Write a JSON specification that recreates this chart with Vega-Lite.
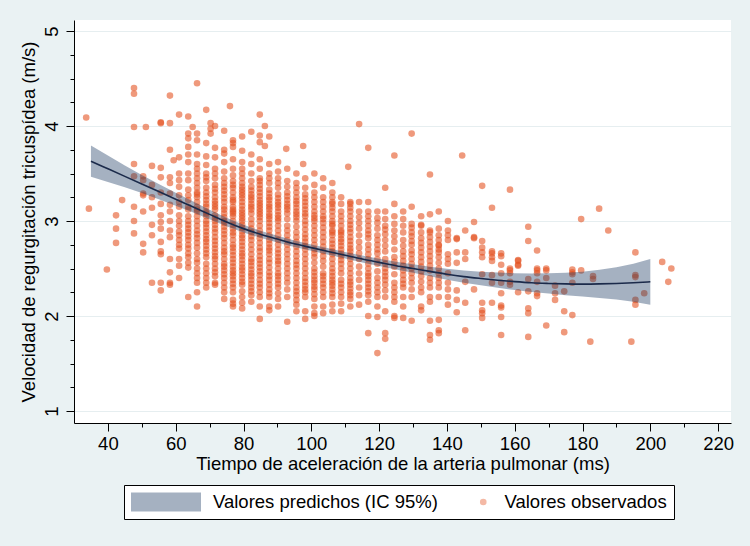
{
"$schema": "https://vega.github.io/schema/vega-lite/v6.json",
"width": 657, "height": 403,
"autosize": {"type": "none"},
"padding": {"left": 74, "top": 20, "right": 19, "bottom": 123},
"background": "#eaf2f3",
"config": {"view": {"fill": "white", "stroke": null}, "font": "Liberation Sans"},
"datasets": {
"fit": [
{"x":35,"fit":3.63,"lo":3.465,"hi":3.795},{"x":40,"fit":3.55,"lo":3.41,"hi":3.69},{"x":45,"fit":3.47,"lo":3.355,"hi":3.585},{"x":50,"fit":3.39,"lo":3.295,"hi":3.485},{"x":55,"fit":3.31,"lo":3.23,"hi":3.39},{"x":60,"fit":3.23,"lo":3.162,"hi":3.298},{"x":65,"fit":3.15,"lo":3.092,"hi":3.208},{"x":70,"fit":3.07,"lo":3.02,"hi":3.12},{"x":75,"fit":2.99,"lo":2.946,"hi":3.034},{"x":80,"fit":2.92,"lo":2.88,"hi":2.96},{"x":85,"fit":2.86,"lo":2.823,"hi":2.897},{"x":90,"fit":2.81,"lo":2.775,"hi":2.845},{"x":95,"fit":2.76,"lo":2.726,"hi":2.794},{"x":100,"fit":2.72,"lo":2.686,"hi":2.754},{"x":105,"fit":2.68,"lo":2.646,"hi":2.714},{"x":110,"fit":2.64,"lo":2.605,"hi":2.675},{"x":115,"fit":2.6,"lo":2.564,"hi":2.636},{"x":120,"fit":2.565,"lo":2.527,"hi":2.603},{"x":125,"fit":2.53,"lo":2.489,"hi":2.571},{"x":130,"fit":2.5,"lo":2.455,"hi":2.545},{"x":135,"fit":2.47,"lo":2.42,"hi":2.52},{"x":140,"fit":2.44,"lo":2.383,"hi":2.497},{"x":145,"fit":2.415,"lo":2.351,"hi":2.479},{"x":150,"fit":2.395,"lo":2.323,"hi":2.467},{"x":155,"fit":2.377,"lo":2.297,"hi":2.457},{"x":160,"fit":2.362,"lo":2.274,"hi":2.45},{"x":165,"fit":2.35,"lo":2.253,"hi":2.447},{"x":170,"fit":2.343,"lo":2.236,"hi":2.45},{"x":175,"fit":2.338,"lo":2.22,"hi":2.456},{"x":180,"fit":2.336,"lo":2.206,"hi":2.466},{"x":185,"fit":2.338,"lo":2.19,"hi":2.486},{"x":190,"fit":2.343,"lo":2.173,"hi":2.513},{"x":195,"fit":2.35,"lo":2.15,"hi":2.55},{"x":200,"fit":2.36,"lo":2.12,"hi":2.6}
],
"obs": [
{"x":33.6,"y":4.09},{"x":34.4,"y":3.13},{"x":39.7,"y":2.49},{"x":42.4,"y":3.06},{"x":42.4,"y":2.92},{"x":42.4,"y":2.77},{"x":44.2,"y":3.22},
{"x":47.7,"y":4.4},{"x":47.7,"y":4.34},{"x":47.7,"y":3.99},{"x":47.7,"y":3.6},{"x":47.7,"y":3.47},{"x":47.7,"y":3.15},{"x":47.7,"y":3.0},{"x":47.7,"y":2.87},
{"x":50.4,"y":3.47},{"x":50.4,"y":3.43},{"x":50.4,"y":3.29},{"x":50.4,"y":3.27},{"x":50.4,"y":3.1},{"x":50.4,"y":2.76},{"x":50.4,"y":2.67},{"x":51.2,"y":3.99},
{"x":53.0,"y":3.58},{"x":53.0,"y":3.38},{"x":53.0,"y":3.25},{"x":53.0,"y":3.14},{"x":53.0,"y":2.96},{"x":53.0,"y":2.85},{"x":53.0,"y":2.35},
{"x":55.6,"y":4.04},{"x":55.6,"y":4.03},{"x":55.6,"y":3.56},{"x":55.6,"y":3.46},{"x":55.6,"y":3.3},{"x":55.6,"y":3.18},{"x":55.6,"y":3.06},{"x":55.6,"y":2.99},{"x":55.6,"y":2.92},{"x":55.6,"y":2.78},{"x":55.6,"y":2.68},{"x":55.6,"y":2.65},{"x":55.6,"y":2.35},{"x":55.6,"y":2.27},
{"x":58.3,"y":4.32},{"x":58.3,"y":4.03},{"x":58.3,"y":3.75},{"x":58.3,"y":3.46},{"x":58.3,"y":3.4},{"x":58.3,"y":3.29},{"x":58.3,"y":3.17},{"x":58.3,"y":3.1},{"x":58.3,"y":3.0},{"x":58.3,"y":2.9},{"x":58.3,"y":2.83},{"x":58.3,"y":2.6},{"x":58.3,"y":2.46},{"x":58.3,"y":2.35},{"x":58.3,"y":2.33},{"x":59.4,"y":3.64},
{"x":61.0,"y":4.12},{"x":61.0,"y":3.67},{"x":61.0,"y":3.5},{"x":61.0,"y":3.43},{"x":61.0,"y":3.36},{"x":61.0,"y":3.27},{"x":61.0,"y":3.15},{"x":61.0,"y":3.06},{"x":61.0,"y":2.95},{"x":61.0,"y":2.89},{"x":61.0,"y":2.8},{"x":61.0,"y":2.71},{"x":61.0,"y":2.53},{"x":61.0,"y":2.4},
{"x":61.0,"y":3.2},{"x":61.0,"y":3.0},{"x":61.0,"y":2.85},{"x":61.0,"y":2.75},{"x":61.0,"y":2.6},
{"x":63.7,"y":4.1},{"x":63.7,"y":3.92},{"x":63.7,"y":3.87},{"x":63.7,"y":3.78},{"x":63.7,"y":3.7},{"x":63.7,"y":3.62},{"x":63.7,"y":3.5},{"x":63.7,"y":3.43},{"x":63.7,"y":3.33},{"x":63.7,"y":3.27},{"x":63.7,"y":3.22},{"x":63.7,"y":3.12},{"x":63.7,"y":3.05},{"x":63.7,"y":2.96},{"x":63.7,"y":2.88},{"x":63.7,"y":2.8},{"x":63.7,"y":2.75},{"x":63.7,"y":2.71},{"x":63.7,"y":2.62},{"x":63.7,"y":2.51},{"x":63.7,"y":2.2},{"x":65.0,"y":3.99},
{"x":63.7,"y":3.15},{"x":63.7,"y":3.0},{"x":63.7,"y":2.92},{"x":63.7,"y":2.84},{"x":63.7,"y":2.66},{"x":63.7,"y":2.56},
{"x":66.3,"y":4.45},{"x":66.3,"y":3.92},{"x":66.3,"y":3.85},{"x":66.3,"y":3.7},{"x":66.3,"y":3.6},{"x":66.3,"y":3.55},{"x":66.3,"y":3.5},{"x":66.3,"y":3.4},{"x":66.3,"y":3.35},{"x":66.3,"y":3.3},{"x":66.3,"y":3.25},{"x":66.3,"y":3.2},{"x":66.3,"y":3.15},{"x":66.3,"y":3.1},{"x":66.3,"y":3.05},{"x":66.3,"y":3.0},{"x":66.3,"y":2.9},{"x":66.3,"y":2.82},{"x":66.3,"y":2.72},{"x":66.3,"y":2.6},{"x":66.3,"y":2.56},{"x":66.3,"y":2.5},{"x":66.3,"y":2.45},{"x":66.3,"y":2.35},{"x":66.3,"y":2.25},{"x":66.3,"y":2.1},
{"x":66.3,"y":3.45},{"x":66.3,"y":3.28},{"x":66.3,"y":3.12},{"x":66.3,"y":2.95},{"x":66.3,"y":2.86},{"x":66.3,"y":2.77},{"x":66.3,"y":2.66},{"x":66.3,"y":2.4},
{"x":69.0,"y":4.17},{"x":69.0,"y":3.82},{"x":69.0,"y":3.68},{"x":69.0,"y":3.59},{"x":69.0,"y":3.5},{"x":69.0,"y":3.42},{"x":69.0,"y":3.35},{"x":69.0,"y":3.3},{"x":69.0,"y":3.22},{"x":69.0,"y":3.15},{"x":69.0,"y":3.1},{"x":69.0,"y":3.05},{"x":69.0,"y":3.0},{"x":69.0,"y":2.93},{"x":69.0,"y":2.85},{"x":69.0,"y":2.78},{"x":69.0,"y":2.7},{"x":69.0,"y":2.62},{"x":69.0,"y":2.5},{"x":69.0,"y":2.45},{"x":69.0,"y":2.4},{"x":69.0,"y":2.3},
{"x":69.0,"y":3.46},{"x":69.0,"y":3.26},{"x":69.0,"y":3.18},{"x":69.0,"y":3.08},{"x":69.0,"y":2.97},{"x":69.0,"y":2.89},{"x":69.0,"y":2.81},{"x":69.0,"y":2.74},{"x":69.0,"y":2.66},{"x":69.0,"y":2.55},{"x":69.0,"y":2.35},
{"x":70.3,"y":4.03},{"x":70.3,"y":3.97},{"x":70.3,"y":3.92},
{"x":71.6,"y":4.0},{"x":71.6,"y":3.77},{"x":71.6,"y":3.67},{"x":71.6,"y":3.55},{"x":71.6,"y":3.45},{"x":71.6,"y":3.38},{"x":71.6,"y":3.3},{"x":71.6,"y":3.25},{"x":71.6,"y":3.18},{"x":71.6,"y":3.12},{"x":71.6,"y":3.06},{"x":71.6,"y":3.0},{"x":71.6,"y":2.92},{"x":71.6,"y":2.83},{"x":71.6,"y":2.75},{"x":71.6,"y":2.67},{"x":71.6,"y":2.6},{"x":71.6,"y":2.5},{"x":71.6,"y":2.42},{"x":71.6,"y":2.35},{"x":71.6,"y":2.33},
{"x":71.6,"y":3.5},{"x":71.6,"y":3.34},{"x":71.6,"y":3.21},{"x":71.6,"y":3.15},{"x":71.6,"y":3.03},{"x":71.6,"y":2.96},{"x":71.6,"y":2.88},{"x":71.6,"y":2.79},{"x":71.6,"y":2.71},{"x":71.6,"y":2.63},{"x":71.6,"y":2.55},{"x":71.6,"y":2.46},
{"x":74.3,"y":3.95},{"x":74.3,"y":3.75},{"x":74.3,"y":3.71},{"x":74.3,"y":3.62},{"x":74.3,"y":3.52},{"x":74.3,"y":3.45},{"x":74.3,"y":3.4},{"x":74.3,"y":3.32},{"x":74.3,"y":3.28},{"x":74.3,"y":3.2},{"x":74.3,"y":3.15},{"x":74.3,"y":3.08},{"x":74.3,"y":3.04},{"x":74.3,"y":2.98},{"x":74.3,"y":2.9},{"x":74.3,"y":2.82},{"x":74.3,"y":2.72},{"x":74.3,"y":2.65},{"x":74.3,"y":2.55},{"x":74.3,"y":2.48},{"x":74.3,"y":2.4},{"x":74.3,"y":2.35},{"x":74.3,"y":2.25},{"x":74.3,"y":2.18},{"x":76.0,"y":4.21},
{"x":74.3,"y":3.36},{"x":74.3,"y":3.24},{"x":74.3,"y":3.12},{"x":74.3,"y":3.0},{"x":74.3,"y":2.94},{"x":74.3,"y":2.86},{"x":74.3,"y":2.77},{"x":74.3,"y":2.68},{"x":74.3,"y":2.6},{"x":74.3,"y":2.52},{"x":74.3,"y":2.44},{"x":74.3,"y":2.3},
{"x":76.9,"y":3.85},{"x":76.9,"y":3.82},{"x":76.9,"y":3.78},{"x":76.9,"y":3.65},{"x":76.9,"y":3.55},{"x":76.9,"y":3.48},{"x":76.9,"y":3.42},{"x":76.9,"y":3.35},{"x":76.9,"y":3.3},{"x":76.9,"y":3.25},{"x":76.9,"y":3.2},{"x":76.9,"y":3.15},{"x":76.9,"y":3.1},{"x":76.9,"y":3.05},{"x":76.9,"y":3.0},{"x":76.9,"y":2.92},{"x":76.9,"y":2.85},{"x":76.9,"y":2.75},{"x":76.9,"y":2.68},{"x":76.9,"y":2.6},{"x":76.9,"y":2.52},{"x":76.9,"y":2.45},{"x":76.9,"y":2.38},{"x":76.9,"y":2.3},{"x":76.9,"y":2.17},{"x":76.9,"y":2.13},{"x":76.9,"y":2.1},
{"x":76.9,"y":3.38},{"x":76.9,"y":3.22},{"x":76.9,"y":3.12},{"x":76.9,"y":3.08},{"x":76.9,"y":2.96},{"x":76.9,"y":2.88},{"x":76.9,"y":2.8},{"x":76.9,"y":2.72},{"x":76.9,"y":2.64},{"x":76.9,"y":2.56},{"x":76.9,"y":2.48},{"x":76.9,"y":2.42},{"x":76.9,"y":2.34},{"x":76.9,"y":2.25},
{"x":79.6,"y":3.89},{"x":79.6,"y":3.74},{"x":79.6,"y":3.62},{"x":79.6,"y":3.55},{"x":79.6,"y":3.45},{"x":79.6,"y":3.4},{"x":79.6,"y":3.33},{"x":79.6,"y":3.27},{"x":79.6,"y":3.2},{"x":79.6,"y":3.12},{"x":79.6,"y":3.06},{"x":79.6,"y":3.0},{"x":79.6,"y":2.93},{"x":79.6,"y":2.85},{"x":79.6,"y":2.78},{"x":79.6,"y":2.7},{"x":79.6,"y":2.63},{"x":79.6,"y":2.55},{"x":79.6,"y":2.48},{"x":79.6,"y":2.4},{"x":79.6,"y":2.33},{"x":79.6,"y":2.26},{"x":79.6,"y":2.14},{"x":79.6,"y":2.08},
{"x":79.6,"y":3.5},{"x":79.6,"y":3.36},{"x":79.6,"y":3.3},{"x":79.6,"y":3.24},{"x":79.6,"y":3.16},{"x":79.6,"y":3.09},{"x":79.6,"y":3.03},{"x":79.6,"y":2.96},{"x":79.6,"y":2.89},{"x":79.6,"y":2.82},{"x":79.6,"y":2.74},{"x":79.6,"y":2.66},{"x":79.6,"y":2.59},{"x":79.6,"y":2.51},{"x":79.6,"y":2.44},{"x":79.6,"y":2.36},{"x":79.6,"y":2.2},
{"x":82.3,"y":3.94},{"x":82.3,"y":3.7},{"x":82.3,"y":3.6},{"x":82.3,"y":3.5},{"x":82.3,"y":3.42},{"x":82.3,"y":3.36},{"x":82.3,"y":3.28},{"x":82.3,"y":3.22},{"x":82.3,"y":3.15},{"x":82.3,"y":3.08},{"x":82.3,"y":2.97},{"x":82.3,"y":2.88},{"x":82.3,"y":2.8},{"x":82.3,"y":2.7},{"x":82.3,"y":2.6},{"x":82.3,"y":2.53},{"x":82.3,"y":2.45},{"x":82.3,"y":2.38},{"x":82.3,"y":2.3},{"x":82.3,"y":2.22},{"x":82.3,"y":2.15},
{"x":82.3,"y":3.32},{"x":82.3,"y":3.25},{"x":82.3,"y":3.18},{"x":82.3,"y":3.12},{"x":82.3,"y":3.02},{"x":82.3,"y":2.92},{"x":82.3,"y":2.84},{"x":82.3,"y":2.75},{"x":82.3,"y":2.65},{"x":82.3,"y":2.57},{"x":82.3,"y":2.49},{"x":82.3,"y":2.42},{"x":82.3,"y":2.34},{"x":82.3,"y":2.26},
{"x":84.8,"y":4.12},{"x":84.8,"y":3.9},{"x":84.8,"y":3.83},{"x":84.8,"y":3.65},{"x":84.8,"y":3.55},{"x":84.8,"y":3.45},{"x":84.8,"y":3.38},{"x":84.8,"y":3.3},{"x":84.8,"y":3.22},{"x":84.8,"y":3.16},{"x":84.8,"y":3.1},{"x":84.8,"y":3.04},{"x":84.8,"y":3.0},{"x":84.8,"y":2.9},{"x":84.8,"y":2.82},{"x":84.8,"y":2.72},{"x":84.8,"y":2.63},{"x":84.8,"y":2.55},{"x":84.8,"y":2.47},{"x":84.8,"y":2.38},{"x":84.8,"y":2.3},{"x":84.8,"y":2.2},{"x":84.8,"y":2.1},{"x":84.8,"y":1.97},
{"x":84.8,"y":3.42},{"x":84.8,"y":3.34},{"x":84.8,"y":3.26},{"x":84.8,"y":3.19},{"x":84.8,"y":3.13},{"x":84.8,"y":3.07},{"x":84.8,"y":2.95},{"x":84.8,"y":2.86},{"x":84.8,"y":2.77},{"x":84.8,"y":2.68},{"x":84.8,"y":2.59},{"x":84.8,"y":2.51},{"x":84.8,"y":2.43},{"x":84.8,"y":2.34},{"x":84.8,"y":2.25},
{"x":86.3,"y":4.0},{"x":86.3,"y":3.79},
{"x":87.6,"y":3.89},{"x":87.6,"y":3.6},{"x":87.6,"y":3.5},{"x":87.6,"y":3.4},{"x":87.6,"y":3.33},{"x":87.6,"y":3.25},{"x":87.6,"y":3.18},{"x":87.6,"y":3.12},{"x":87.6,"y":3.05},{"x":87.6,"y":2.98},{"x":87.6,"y":2.9},{"x":87.6,"y":2.8},{"x":87.6,"y":2.72},{"x":87.6,"y":2.65},{"x":87.6,"y":2.56},{"x":87.6,"y":2.46},{"x":87.6,"y":2.38},{"x":87.6,"y":2.28},{"x":87.6,"y":2.2},{"x":87.6,"y":2.1},{"x":87.6,"y":2.06},
{"x":87.6,"y":3.45},{"x":87.6,"y":3.29},{"x":87.6,"y":3.22},{"x":87.6,"y":3.15},{"x":87.6,"y":3.08},{"x":87.6,"y":3.02},{"x":87.6,"y":2.94},{"x":87.6,"y":2.85},{"x":87.6,"y":2.76},{"x":87.6,"y":2.69},{"x":87.6,"y":2.6},{"x":87.6,"y":2.51},{"x":87.6,"y":2.42},{"x":87.6,"y":2.33},{"x":87.6,"y":2.24},
{"x":90.2,"y":3.62},{"x":90.2,"y":3.52},{"x":90.2,"y":3.45},{"x":90.2,"y":3.35},{"x":90.2,"y":3.28},{"x":90.2,"y":3.2},{"x":90.2,"y":3.14},{"x":90.2,"y":3.06},{"x":90.2,"y":3.0},{"x":90.2,"y":2.9},{"x":90.2,"y":2.8},{"x":90.2,"y":2.7},{"x":90.2,"y":2.62},{"x":90.2,"y":2.55},{"x":90.2,"y":2.45},{"x":90.2,"y":2.38},{"x":90.2,"y":2.3},{"x":90.2,"y":2.18},{"x":90.2,"y":2.1},
{"x":90.2,"y":3.4},{"x":90.2,"y":3.24},{"x":90.2,"y":3.17},{"x":90.2,"y":3.1},{"x":90.2,"y":3.03},{"x":90.2,"y":2.95},{"x":90.2,"y":2.85},{"x":90.2,"y":2.75},{"x":90.2,"y":2.66},{"x":90.2,"y":2.58},{"x":90.2,"y":2.5},{"x":90.2,"y":2.42},{"x":90.2,"y":2.34},{"x":90.2,"y":2.24},
{"x":92.6,"y":3.76},{"x":92.9,"y":3.55},{"x":92.9,"y":3.42},{"x":92.9,"y":3.3},{"x":92.9,"y":3.22},{"x":92.9,"y":3.15},{"x":92.9,"y":3.08},{"x":92.9,"y":2.95},{"x":92.9,"y":2.85},{"x":92.9,"y":2.75},{"x":92.9,"y":2.65},{"x":92.9,"y":2.55},{"x":92.9,"y":2.45},{"x":92.9,"y":2.35},{"x":92.9,"y":2.2},{"x":92.9,"y":1.94},
{"x":92.9,"y":3.36},{"x":92.9,"y":3.26},{"x":92.9,"y":3.18},{"x":92.9,"y":3.12},{"x":92.9,"y":3.02},{"x":92.9,"y":2.9},{"x":92.9,"y":2.8},{"x":92.9,"y":2.7},{"x":92.9,"y":2.6},{"x":92.9,"y":2.5},{"x":92.9,"y":2.4},{"x":92.9,"y":2.28},
{"x":95.6,"y":3.5},{"x":95.6,"y":3.4},{"x":95.6,"y":3.3},{"x":95.6,"y":3.25},{"x":95.6,"y":3.18},{"x":95.6,"y":3.1},{"x":95.6,"y":3.04},{"x":95.6,"y":3.0},{"x":95.6,"y":2.88},{"x":95.6,"y":2.78},{"x":95.6,"y":2.68},{"x":95.6,"y":2.58},{"x":95.6,"y":2.5},{"x":95.6,"y":2.4},{"x":95.6,"y":2.3},{"x":95.6,"y":2.22},{"x":95.6,"y":2.12},{"x":95.6,"y":2.05},
{"x":95.6,"y":3.35},{"x":95.6,"y":3.21},{"x":95.6,"y":3.14},{"x":95.6,"y":3.07},{"x":95.6,"y":2.94},{"x":95.6,"y":2.83},{"x":95.6,"y":2.73},{"x":95.6,"y":2.63},{"x":95.6,"y":2.54},{"x":95.6,"y":2.45},{"x":95.6,"y":2.35},{"x":95.6,"y":2.26},{"x":95.6,"y":2.17},
{"x":97.6,"y":3.79},{"x":97.6,"y":3.6},
{"x":98.2,"y":3.45},{"x":98.2,"y":3.35},{"x":98.2,"y":3.28},{"x":98.2,"y":3.2},{"x":98.2,"y":3.12},{"x":98.2,"y":3.05},{"x":98.2,"y":2.96},{"x":98.2,"y":2.86},{"x":98.2,"y":2.78},{"x":98.2,"y":2.7},{"x":98.2,"y":2.6},{"x":98.2,"y":2.5},{"x":98.2,"y":2.4},{"x":98.2,"y":2.32},{"x":98.2,"y":2.25},{"x":98.2,"y":2.2},{"x":98.2,"y":2.05},{"x":98.2,"y":1.97},
{"x":98.2,"y":3.24},{"x":98.2,"y":3.16},{"x":98.2,"y":3.08},{"x":98.2,"y":3.0},{"x":98.2,"y":2.91},{"x":98.2,"y":2.82},{"x":98.2,"y":2.74},{"x":98.2,"y":2.65},{"x":98.2,"y":2.55},{"x":98.2,"y":2.45},{"x":98.2,"y":2.36},{"x":98.2,"y":2.28},
{"x":100.9,"y":3.5},{"x":100.9,"y":3.38},{"x":100.9,"y":3.3},{"x":100.9,"y":3.2},{"x":100.9,"y":3.15},{"x":100.9,"y":3.06},{"x":100.9,"y":3.0},{"x":100.9,"y":2.9},{"x":100.9,"y":2.8},{"x":100.9,"y":2.7},{"x":100.9,"y":2.62},{"x":100.9,"y":2.5},{"x":100.9,"y":2.42},{"x":100.9,"y":2.35},{"x":100.9,"y":2.28},{"x":100.9,"y":2.18},{"x":100.9,"y":2.1},{"x":100.9,"y":2.03},{"x":100.9,"y":2.0},
{"x":100.9,"y":3.25},{"x":100.9,"y":3.1},{"x":100.9,"y":3.03},{"x":100.9,"y":2.95},{"x":100.9,"y":2.85},{"x":100.9,"y":2.75},{"x":100.9,"y":2.66},{"x":100.9,"y":2.56},{"x":100.9,"y":2.46},{"x":100.9,"y":2.38},{"x":100.9,"y":2.31},{"x":100.9,"y":2.23},
{"x":103.5,"y":3.45},{"x":103.5,"y":3.35},{"x":103.5,"y":3.25},{"x":103.5,"y":3.15},{"x":103.5,"y":3.05},{"x":103.5,"y":2.98},{"x":103.5,"y":2.88},{"x":103.5,"y":2.78},{"x":103.5,"y":2.68},{"x":103.5,"y":2.58},{"x":103.5,"y":2.45},{"x":103.5,"y":2.38},{"x":103.5,"y":2.3},{"x":103.5,"y":2.2},{"x":103.5,"y":2.1},{"x":103.5,"y":2.03},
{"x":103.5,"y":3.2},{"x":103.5,"y":3.1},{"x":103.5,"y":3.02},{"x":103.5,"y":2.93},{"x":103.5,"y":2.83},{"x":103.5,"y":2.73},{"x":103.5,"y":2.63},{"x":103.5,"y":2.52},{"x":103.5,"y":2.42},{"x":103.5,"y":2.34},{"x":103.5,"y":2.25},
{"x":106.2,"y":3.4},{"x":106.2,"y":3.3},{"x":106.2,"y":3.2},{"x":106.2,"y":3.18},{"x":106.2,"y":3.1},{"x":106.2,"y":3.0},{"x":106.2,"y":2.95},{"x":106.2,"y":2.9},{"x":106.2,"y":2.85},{"x":106.2,"y":2.8},{"x":106.2,"y":2.72},{"x":106.2,"y":2.65},{"x":106.2,"y":2.55},{"x":106.2,"y":2.5},{"x":106.2,"y":2.42},{"x":106.2,"y":2.35},{"x":106.2,"y":2.28},{"x":106.2,"y":2.2},{"x":106.2,"y":2.12},{"x":106.2,"y":2.05},
{"x":106.2,"y":3.25},{"x":106.2,"y":3.14},{"x":106.2,"y":3.05},{"x":106.2,"y":2.97},{"x":106.2,"y":2.88},{"x":106.2,"y":2.76},{"x":106.2,"y":2.68},{"x":106.2,"y":2.6},{"x":106.2,"y":2.46},{"x":106.2,"y":2.38},{"x":106.2,"y":2.32},{"x":106.2,"y":2.24},
{"x":108.8,"y":3.25},{"x":108.8,"y":3.18},{"x":108.8,"y":3.05},{"x":108.8,"y":2.95},{"x":108.8,"y":2.9},{"x":108.8,"y":2.85},{"x":108.8,"y":2.78},{"x":108.8,"y":2.7},{"x":108.8,"y":2.63},{"x":108.8,"y":2.55},{"x":108.8,"y":2.38},{"x":108.8,"y":2.3},{"x":108.8,"y":2.2},{"x":108.8,"y":2.13},{"x":108.8,"y":2.05},
{"x":108.8,"y":3.1},{"x":108.8,"y":3.0},{"x":108.8,"y":2.88},{"x":108.8,"y":2.81},{"x":108.8,"y":2.74},{"x":108.8,"y":2.66},{"x":108.8,"y":2.59},{"x":108.8,"y":2.5},{"x":108.8,"y":2.45},{"x":108.8,"y":2.34},{"x":108.8,"y":2.25},
{"x":110.9,"y":3.57},
{"x":111.5,"y":3.2},{"x":111.5,"y":3.18},{"x":111.5,"y":3.1},{"x":111.5,"y":3.05},{"x":111.5,"y":3.0},{"x":111.5,"y":2.92},{"x":111.5,"y":2.83},{"x":111.5,"y":2.75},{"x":111.5,"y":2.68},{"x":111.5,"y":2.6},{"x":111.5,"y":2.5},{"x":111.5,"y":2.4},{"x":111.5,"y":2.33},{"x":111.5,"y":2.25},{"x":111.5,"y":2.18},{"x":111.5,"y":2.1},
{"x":111.5,"y":3.14},{"x":111.5,"y":2.96},{"x":111.5,"y":2.88},{"x":111.5,"y":2.79},{"x":111.5,"y":2.71},{"x":111.5,"y":2.64},{"x":111.5,"y":2.55},{"x":111.5,"y":2.45},{"x":111.5,"y":2.36},{"x":111.5,"y":2.29},{"x":111.5,"y":2.22},
{"x":114.1,"y":4.02},{"x":114.1,"y":3.2},{"x":114.1,"y":3.04},{"x":114.1,"y":2.98},{"x":114.1,"y":2.85},{"x":114.1,"y":2.72},{"x":114.1,"y":2.6},{"x":114.1,"y":2.45},{"x":114.1,"y":2.3},{"x":114.1,"y":2.12},
{"x":114.1,"y":3.1},{"x":114.1,"y":2.92},{"x":114.1,"y":2.78},{"x":114.1,"y":2.66},{"x":114.1,"y":2.52},{"x":114.1,"y":2.38},{"x":114.1,"y":2.22},
{"x":116.8,"y":3.77},{"x":116.8,"y":3.2},{"x":116.8,"y":3.1},{"x":116.8,"y":3.05},{"x":116.8,"y":3.0},{"x":116.8,"y":2.9},{"x":116.8,"y":2.82},{"x":116.8,"y":2.75},{"x":116.8,"y":2.65},{"x":116.8,"y":2.55},{"x":116.8,"y":2.45},{"x":116.8,"y":2.38},{"x":116.8,"y":2.3},{"x":116.8,"y":2.22},{"x":116.8,"y":2.15},{"x":116.8,"y":2.0},{"x":116.8,"y":1.82},
{"x":116.8,"y":2.95},{"x":116.8,"y":2.86},{"x":116.8,"y":2.7},{"x":116.8,"y":2.6},{"x":116.8,"y":2.5},{"x":116.8,"y":2.42},{"x":116.8,"y":2.34},{"x":116.8,"y":2.26},
{"x":119.5,"y":3.1},{"x":119.5,"y":3.03},{"x":119.5,"y":2.98},{"x":119.5,"y":2.85},{"x":119.5,"y":2.75},{"x":119.5,"y":2.66},{"x":119.5,"y":2.55},{"x":119.5,"y":2.4},{"x":119.5,"y":2.3},{"x":119.5,"y":2.2},{"x":119.5,"y":2.1},{"x":119.5,"y":1.99},{"x":119.5,"y":1.61},
{"x":119.5,"y":2.92},{"x":119.5,"y":2.8},{"x":119.5,"y":2.7},{"x":119.5,"y":2.6},{"x":119.5,"y":2.47},{"x":119.5,"y":2.35},{"x":119.5,"y":2.25},
{"x":121.8,"y":3.35},{"x":121.8,"y":3.1},{"x":121.8,"y":2.95},{"x":121.8,"y":2.91},{"x":121.8,"y":2.8},{"x":121.8,"y":2.68},{"x":121.8,"y":2.5},{"x":121.8,"y":2.42},{"x":121.8,"y":2.33},{"x":121.8,"y":2.2},{"x":121.8,"y":2.05},{"x":121.8,"y":1.82},{"x":121.8,"y":1.76},
{"x":121.8,"y":3.02},{"x":121.8,"y":2.86},{"x":121.8,"y":2.74},{"x":121.8,"y":2.6},{"x":121.8,"y":2.55},{"x":121.8,"y":2.46},{"x":121.8,"y":2.38},{"x":121.8,"y":2.27},
{"x":124.5,"y":3.69},{"x":124.5,"y":3.18},{"x":124.5,"y":3.05},{"x":124.5,"y":2.9},{"x":124.5,"y":2.78},{"x":124.5,"y":2.62},{"x":124.5,"y":2.52},{"x":124.5,"y":2.35},{"x":124.5,"y":2.25},{"x":124.5,"y":2.15},{"x":124.5,"y":2.0},{"x":124.5,"y":1.98},
{"x":124.5,"y":2.97},{"x":124.5,"y":2.84},{"x":124.5,"y":2.7},{"x":124.5,"y":2.57},{"x":124.5,"y":2.44},{"x":124.5,"y":2.3},{"x":124.5,"y":2.2},
{"x":127.1,"y":3.1},{"x":127.1,"y":2.95},{"x":127.1,"y":2.8},{"x":127.1,"y":2.68},{"x":127.1,"y":2.58},{"x":127.1,"y":2.48},{"x":127.1,"y":2.38},{"x":127.1,"y":2.3},{"x":127.1,"y":2.2},{"x":127.1,"y":2.1},{"x":127.1,"y":1.98},
{"x":127.1,"y":3.02},{"x":127.1,"y":2.88},{"x":127.1,"y":2.74},{"x":127.1,"y":2.63},{"x":127.1,"y":2.53},{"x":127.1,"y":2.43},{"x":127.1,"y":2.34},
{"x":129.6,"y":3.92},{"x":129.6,"y":3.15},{"x":129.6,"y":2.97},{"x":129.6,"y":2.93},{"x":129.6,"y":2.88},{"x":129.6,"y":2.79},{"x":129.6,"y":2.75},{"x":129.6,"y":2.69},{"x":129.6,"y":2.6},{"x":129.6,"y":2.45},{"x":129.6,"y":2.35},{"x":129.6,"y":2.2},{"x":129.6,"y":1.95},
{"x":129.6,"y":2.84},{"x":129.6,"y":2.65},{"x":129.6,"y":2.55},{"x":129.6,"y":2.5},{"x":129.6,"y":2.4},{"x":129.6,"y":2.28},
{"x":132.4,"y":3.05},{"x":132.4,"y":2.96},{"x":132.4,"y":2.95},{"x":132.4,"y":2.82},{"x":132.4,"y":2.72},{"x":132.4,"y":2.62},{"x":132.4,"y":2.52},{"x":132.4,"y":2.42},{"x":132.4,"y":2.25},{"x":132.4,"y":2.1},{"x":132.4,"y":2.06},
{"x":132.4,"y":2.88},{"x":132.4,"y":2.77},{"x":132.4,"y":2.67},{"x":132.4,"y":2.57},{"x":132.4,"y":2.47},{"x":132.4,"y":2.36},{"x":132.4,"y":2.3},
{"x":135.0,"y":3.49},{"x":135.0,"y":3.07},{"x":135.0,"y":2.9},{"x":135.0,"y":2.88},{"x":135.0,"y":2.78},{"x":135.0,"y":2.68},{"x":135.0,"y":2.58},{"x":135.0,"y":2.48},{"x":135.0,"y":2.3},{"x":135.0,"y":2.2},{"x":135.0,"y":2.15},{"x":135.0,"y":1.95},{"x":135.0,"y":1.8},{"x":135.0,"y":1.75},
{"x":135.0,"y":2.83},{"x":135.0,"y":2.73},{"x":135.0,"y":2.63},{"x":135.0,"y":2.53},{"x":135.0,"y":2.4},{"x":135.0,"y":2.35},
{"x":137.6,"y":3.1},{"x":137.6,"y":2.92},{"x":137.6,"y":2.85},{"x":137.6,"y":2.8},{"x":137.6,"y":2.75},{"x":137.6,"y":2.74},{"x":137.6,"y":2.67},{"x":137.6,"y":2.62},{"x":137.6,"y":2.5},{"x":137.6,"y":2.4},{"x":137.6,"y":2.3},{"x":137.6,"y":2.2},{"x":137.6,"y":1.96},{"x":137.6,"y":1.85},{"x":137.6,"y":1.82},
{"x":137.6,"y":2.7},{"x":137.6,"y":2.56},{"x":137.6,"y":2.45},{"x":137.6,"y":2.35},
{"x":140.3,"y":3.0},{"x":140.3,"y":2.9},{"x":140.3,"y":2.8},{"x":140.3,"y":2.65},{"x":140.3,"y":2.55},{"x":140.3,"y":2.35},{"x":140.3,"y":2.2},{"x":140.3,"y":2.12},
{"x":140.3,"y":2.85},{"x":140.3,"y":2.6},{"x":140.3,"y":2.45},{"x":140.3,"y":2.28},
{"x":142.9,"y":2.82},{"x":142.9,"y":2.81},{"x":142.9,"y":2.67},{"x":142.9,"y":2.56},{"x":142.9,"y":2.27},{"x":142.9,"y":2.17},{"x":142.9,"y":2.04},{"x":144.5,"y":3.69},
{"x":145.4,"y":2.9},{"x":145.4,"y":2.67},{"x":145.4,"y":2.6},{"x":145.4,"y":2.36},{"x":145.4,"y":2.14},{"x":145.4,"y":1.85},
{"x":148.0,"y":2.99},{"x":148.0,"y":2.83},{"x":148.0,"y":2.82},{"x":148.0,"y":2.28},
{"x":150.4,"y":3.37},{"x":150.4,"y":2.79},{"x":150.4,"y":2.72},{"x":150.4,"y":2.67},{"x":150.4,"y":2.62},{"x":150.4,"y":2.44},{"x":150.4,"y":2.14},{"x":150.4,"y":2.06},{"x":150.4,"y":2.03},{"x":150.4,"y":1.98},
{"x":153.3,"y":3.14},{"x":153.3,"y":2.68},{"x":153.3,"y":2.66},{"x":153.3,"y":2.62},{"x":153.3,"y":2.58},{"x":153.3,"y":2.43},{"x":153.3,"y":2.35},{"x":153.3,"y":2.14},
{"x":156.0,"y":2.66},{"x":156.0,"y":2.63},{"x":156.0,"y":2.54},{"x":156.0,"y":2.45},{"x":156.0,"y":2.35},{"x":156.0,"y":2.24},{"x":156.0,"y":2.11},{"x":156.0,"y":2.09},{"x":156.0,"y":1.99},{"x":156.0,"y":1.8},
{"x":158.6,"y":3.33},{"x":158.6,"y":2.5},{"x":158.6,"y":2.48},{"x":158.6,"y":2.45},{"x":158.6,"y":2.36},{"x":158.6,"y":2.33},
{"x":161.0,"y":2.59},{"x":161.0,"y":2.58},{"x":161.0,"y":2.54},{"x":161.0,"y":2.53},{"x":161.0,"y":2.25},
{"x":164.0,"y":2.94},{"x":164.0,"y":2.79},{"x":164.0,"y":2.39},{"x":164.0,"y":2.26},{"x":164.0,"y":2.08},{"x":164.0,"y":2.03},{"x":164.0,"y":1.78},
{"x":166.6,"y":2.69},{"x":166.6,"y":2.5},{"x":166.6,"y":2.48},{"x":166.6,"y":2.45},{"x":166.6,"y":2.36},{"x":166.6,"y":2.24},{"x":166.6,"y":2.21},
{"x":169.3,"y":2.5},{"x":169.3,"y":2.48},{"x":169.3,"y":2.4},{"x":169.3,"y":1.9},
{"x":171.9,"y":2.32},{"x":171.9,"y":2.24},{"x":171.9,"y":2.17},
{"x":174.6,"y":2.26},{"x":174.6,"y":2.05},{"x":174.6,"y":1.83},
{"x":177.0,"y":2.49},{"x":177.0,"y":2.46},{"x":177.0,"y":2.44},{"x":177.0,"y":2.35},{"x":177.0,"y":2.01},
{"x":179.6,"y":3.02},{"x":179.6,"y":2.48},{"x":182.3,"y":1.73},{"x":183.1,"y":2.42},{"x":183.1,"y":2.39},{"x":184.9,"y":3.13},{"x":187.6,"y":2.9},
{"x":194.4,"y":1.73},{"x":195.6,"y":2.67},{"x":195.6,"y":2.43},{"x":195.6,"y":2.41},{"x":195.6,"y":2.17},{"x":195.6,"y":2.12},{"x":198.2,"y":2.24},
{"x":203.5,"y":2.57},{"x":205.3,"y":2.36},{"x":206.2,"y":2.5}
]
},
"resolve": {"axis": {"x": "independent", "y": "independent"}},
"layer": [
{"data": {"name": "obs"}, "mark": {"type": "point", "filled": true, "opacity": 0.58, "strokeWidth": 0},
 "encoding": {
   "x": {"field": "x", "type": "quantitative", "scale": {"domain": [30, 223.8], "nice": false, "zero": false},
     "axis": {"title": "Tiempo de aceleración de la arteria pulmonar (ms)", "values": [40,60,80,100,120,140,160,180,200,220],
       "grid": false, "domainColor": "black", "domainWidth": 1, "tickColor": "black", "tickSize": 8,
       "labelFontSize": 18.5, "labelColor": "black", "labelPadding": 3, "titleFontSize": 18.5, "titleFontWeight": "normal", "titleColor": "black", "titlePadding": 2}},
   "y": {"field": "y", "type": "quantitative", "scale": {"domain": [0.874, 5.116], "nice": false, "zero": false},
     "axis": {"title": "Velocidad de regurgitación tricuspídea (m/s)", "values": [1,2,3,4,5], "format": "d",
       "labelAngle": -90, "labelAlign": "center", "labelBaseline": "bottom",
       "grid": true, "gridColor": "#e6eef0",
       "domainColor": "black", "tickColor": "black", "tickSize": 8,
       "labelFontSize": 18.5, "labelColor": "black", "labelPadding": 5, "titleFontSize": 18.5, "titleFontWeight": "normal", "titleColor": "black", "titlePadding": 4}},
   "color": {"datum": "Valores observados", "type": "nominal",
     "scale": {"domain": ["Valores predichos (IC 95%)", "Valores observados"], "range": ["#1f3b63", "#e4501e"]},
     "legend": {"title": null, "orient": "none", "legendX": 50, "legendY": 465, "direction": "horizontal", "padding": 7,
       "strokeColor": "black", "fillColor": "white", "labelFontSize": 18.5, "labelColor": "black", "labelOffset": 12, "labelLimit": 400,
       "columnPadding": 36, "clipHeight": 20, "symbolStrokeWidth": 0, "symbolOpacity": 0.42}},
   "shape": {"datum": "Valores observados", "type": "nominal",
     "scale": {"domain": ["Valores predichos (IC 95%)", "Valores observados"], "range": ["M-1,-0.27H1V0.27H-1Z", "circle"]}},
   "size": {"datum": "Valores observados", "type": "nominal",
     "scale": {"type": "ordinal", "domain": ["Valores predichos (IC 95%)", "Valores observados"], "range": [4900, 44]}}}},
{"data": {"name": "fit"}, "mark": {"type": "area", "opacity": 0.4},
 "encoding": {"x": {"field": "x", "type": "quantitative", "axis": null}, "y": {"field": "lo", "type": "quantitative", "axis": null}, "y2": {"field": "hi"},
   "color": {"datum": "Valores predichos (IC 95%)", "type": "nominal"}}},
{"data": {"name": "fit"}, "mark": {"type": "line", "color": "#1b2a4a", "strokeWidth": 1.6, "interpolate": "monotone"},
 "encoding": {
   "x": {"field": "x", "type": "quantitative", "axis": {"orient": "bottom", "values": [50,70,90,110,130,150,170,190,210], "labels": false, "domain": false, "grid": false, "title": null, "tickColor": "black", "tickSize": 4}},
   "y": {"field": "fit", "type": "quantitative", "axis": {"orient": "left", "values": [1.25,1.5,1.75,2.25,2.5,2.75,3.25,3.5,3.75,4.25,4.5,4.75], "labels": false, "domain": false, "grid": false, "title": null, "tickColor": "black", "tickSize": 4}}}}
]
}
